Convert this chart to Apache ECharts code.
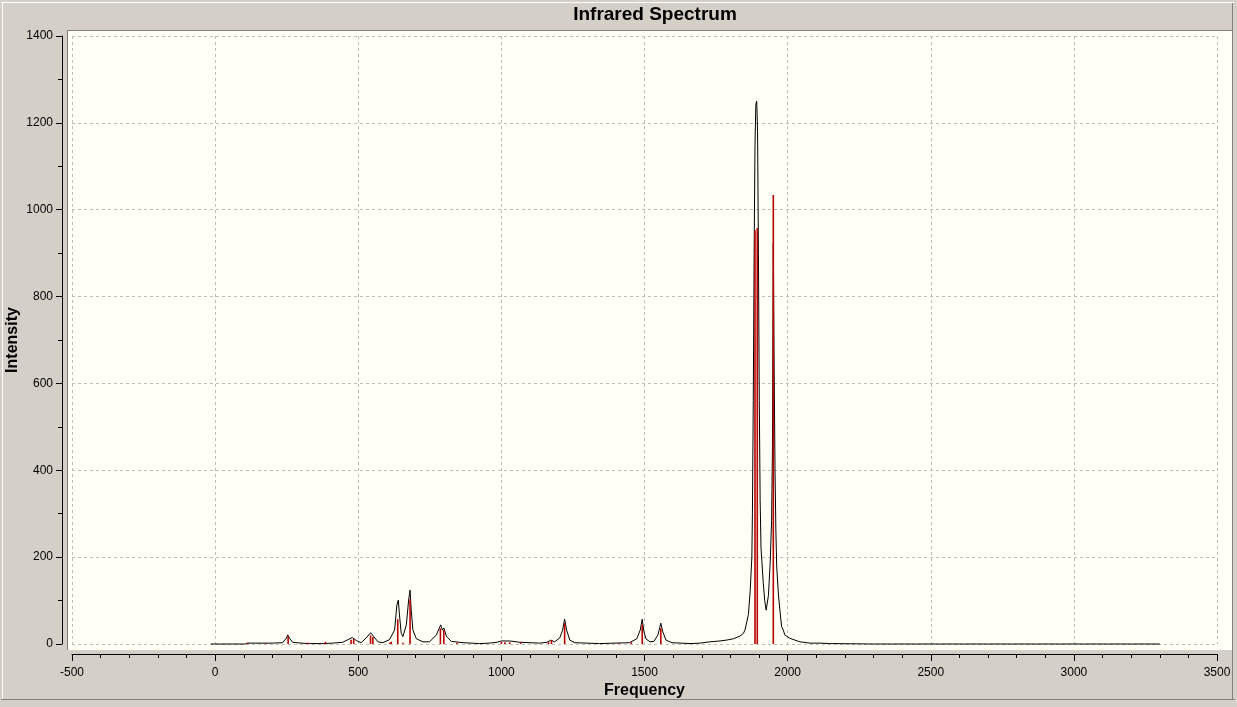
<!DOCTYPE html>
<html>
<head>
<meta charset="utf-8">
<script src="https://cdn.jsdelivr.net/npm/echarts@6/dist/echarts.min.js"></script>
<style>
  html, body { margin: 0; padding: 0; background: #D4D0C8; }
  #wrap { position: relative; width: 1237px; height: 707px; overflow: hidden; }
  #chart { position: absolute; left: 0; top: 0; width: 1237px; height: 707px; }
  .ln { position: absolute; pointer-events: none; }
</style>
</head>
<body>
<div id="wrap">
  <div id="chart"></div>
  <div class="ln" style="left:1px;top:2px;width:1233px;height:1px;background:#ffffff"></div>
  <div class="ln" style="left:2px;top:2px;width:1px;height:698px;background:#ffffff"></div>
  <div class="ln" style="left:1px;top:699px;width:1234px;height:1px;background:#808080"></div>
  <div class="ln" style="left:67px;top:30px;width:1166px;height:1px;background:#808080"></div>
  <div class="ln" style="left:67px;top:30px;width:1px;height:620px;background:#808080"></div>
  <div class="ln" style="left:1232px;top:3px;width:1px;height:696px;background:#808080"></div>
</div>
<script>
// Broadened spectrum (frequency, intensity)
const curveFreq = [-15, 50, 105, 115, 200, 236, 248, 254, 260, 271, 300, 330, 380, 410, 446, 464, 479, 493, 510,
  528, 543, 553, 569, 586, 609, 627, 635, 640, 644, 650, 656, 668, 676, 681, 685, 691, 703, 726, 749,
  773, 788, 794, 799, 808, 825, 866, 924, 958, 985, 1000, 1029, 1064, 1134, 1160, 1173, 1186, 1204,
  1214, 1221, 1228, 1239, 1256, 1343, 1448, 1473, 1485, 1492, 1498, 1505, 1519, 1533, 1547, 1557,
  1564, 1575, 1596, 1659, 1693, 1728, 1764, 1787, 1810, 1833, 1845, 1851, 1863, 1869, 1875, 1877,
  1880, 1883, 1886, 1889, 1892, 1895, 1898, 1901, 1904, 1907, 1910, 1915, 1920, 1925, 1933, 1939,
  1944, 1947, 1950, 1953, 1956, 1959, 1962, 1968, 1973, 1979, 1985, 1990, 2008, 2043, 2078, 2113,
  2150, 2300, 3300];
const curveInt = [0, 0, 0, 2, 2, 3, 13, 21, 13, 4, 2, 1, 1, 2, 4, 10, 15, 8, 3,
  14, 26, 18, 5, 3, 10, 32, 90, 101, 67, 25, 17, 44, 101, 124, 78, 32, 12, 5, 5,
  21, 44, 32, 37, 18, 6, 3, 1, 2, 4, 7, 7, 4, 2, 4, 9, 5, 14,
  32, 57, 32, 9, 3, 1, 3, 12, 32, 57, 28, 12, 5, 6, 21, 48,
  28, 9, 3, 1, 2, 5, 7, 9, 12, 18, 24, 32, 68, 120, 200, 300,
  560, 900, 1150, 1243, 1250, 1180, 900, 560, 330, 221, 190, 140, 100, 78, 112, 186,
  285, 454, 923, 631, 400, 260, 177, 113, 78, 40, 32, 21, 13, 5, 2, 2,
  1, 0, 0];

// Stick spectrum (frequency, intensity)
const stickFreq = [114, 178, 255, 326, 385, 475, 484, 543, 551, 610, 615, 638, 656, 681, 787, 799, 845,
  1000, 1012, 1029, 1067, 1165, 1175, 1221, 1411, 1454, 1492, 1557, 1886, 1894, 1950];
const stickInt = [3, 2, 17, 3, 5, 10, 12, 20, 16, 3, 5, 57, 3, 103, 36, 32, 3,
  5, 4, 4, 3, 4, 9, 48, 2, 4, 44, 36, 953, 958, 1034];

const curveData = curveFreq.map((f, i) => [f, curveInt[i]]);
const stickData = stickFreq.map((f, i) => [f, stickInt[i]]);

const chart = echarts.init(document.getElementById('chart'), null, { renderer: 'canvas' });
const font = 'Liberation Sans, Arial, sans-serif';
const plain = v => String(v);

chart.setOption({
  backgroundColor: '#D4D0C8',
  animation: false,
  title: {
    text: 'Infrared Spectrum',
    left: 650,
    textAlign: 'center',
    top: 0,
    textStyle: { fontFamily: font, fontWeight: 'bold', fontSize: 19, color: '#000' }
  },
  grid: [
    { left: 72, right: 20, top: 36, bottom: 63, show: false, containLabel: false, outerBoundsMode: 'none' },
    { left: 67, right: 4, top: 30, bottom: 57, show: true, backgroundColor: '#FFFFF6', borderWidth: 0, z: -1,
      containLabel: false, outerBoundsMode: 'none' }
  ],
  xAxis: [
    {
      type: 'value', gridIndex: 0, min: -500, max: 3500, interval: 500, offset: 10,
      name: 'Frequency', nameLocation: 'middle', nameGap: 29, nameMoveOverlap: false,
      nameTextStyle: { fontFamily: font, fontWeight: 'bold', fontSize: 16, color: '#000' },
      axisLine: { show: true, onZero: false, lineStyle: { color: '#000', width: 1 } },
      axisTick: { show: true, length: 7, lineStyle: { color: '#000' } },
      minorTick: { show: true, splitNumber: 5, length: 4, lineStyle: { color: '#000' } },
      splitLine: { show: true, lineStyle: { color: '#BDBDBD', type: [3, 3], width: 1 } },
      axisLabel: { fontFamily: font, fontSize: 12, color: '#000', margin: 13, formatter: plain }
    },
    { type: 'value', gridIndex: 1, show: false, min: 0, max: 1 }
  ],
  yAxis: [
    {
      type: 'value', gridIndex: 0, min: 0, max: 1400, interval: 200, offset: 10,
      name: 'Intensity', nameLocation: 'middle', nameGap: 41, nameMoveOverlap: false,
      nameTextStyle: { fontFamily: font, fontWeight: 'bold', fontSize: 16, color: '#000' },
      axisLine: { show: true, onZero: false, lineStyle: { color: '#000', width: 1 } },
      axisTick: { show: true, length: 6, lineStyle: { color: '#000' } },
      minorTick: { show: true, splitNumber: 2, length: 4, lineStyle: { color: '#000' } },
      splitLine: { show: true, lineStyle: { color: '#BDBDBD', type: [3, 3], width: 1 } },
      axisLabel: { fontFamily: font, fontSize: 12, color: '#000', margin: 9, formatter: plain }
    },
    { type: 'value', gridIndex: 1, show: false, min: 0, max: 1 }
  ],
  series: [
    {
      type: 'line', xAxisIndex: 0, yAxisIndex: 0, data: curveData,
      showSymbol: false, symbol: 'none', smooth: false,
      lineStyle: { color: '#000', width: 1 }, z: 3, clip: false
    },
    {
      type: 'custom', xAxisIndex: 0, yAxisIndex: 0, data: stickData, z: 4,
      renderItem: function (params, api) {
        const p0 = api.coord([api.value(0), 0]);
        const p1 = api.coord([api.value(0), api.value(1)]);
        return {
          type: 'line',
          shape: { x1: p0[0], y1: p0[1], x2: p1[0], y2: p1[1] },
          style: { stroke: '#B80000', lineWidth: 1.6 }
        };
      }
    }
  ]
});
</script>
</body>
</html>
